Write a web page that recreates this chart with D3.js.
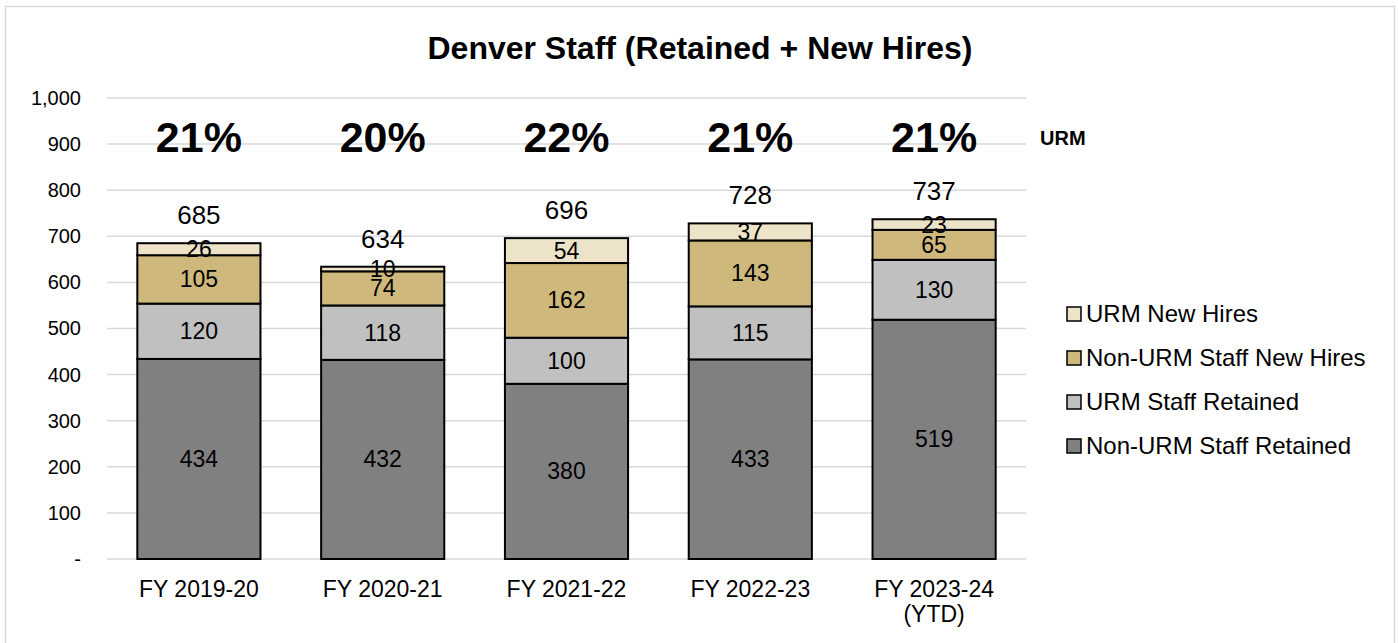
<!DOCTYPE html>
<html>
<head>
<meta charset="utf-8">
<script src="https://cdn.jsdelivr.net/npm/d3@7"></script>
<style>
  body { margin: 0; background: #fff; }
  svg text { font-family: "Liberation Sans", Arial, Helvetica, sans-serif; fill: #000; }
</style>
</head>
<body>
<div id="chart"></div>
<script>
// dados do gráfico
const categories = ["FY 2019-20", "FY 2020-21", "FY 2021-22", "FY 2022-23", "FY 2023-24\n(YTD)"];
const nonUrmRetained = [434, 432, 380, 433, 519];
const urmRetained = [120, 118, 100, 115, 130];
const nonUrmNewHires = [105, 74, 162, 143, 65];
const urmNewHires = [26, 10, 54, 37, 23];
const urmPercent = ["21%", "20%", "22%", "21%", "21%"];
const yTicks = [0, 100, 200, 300, 400, 500, 600, 700, 800, 900, 1000];

const seriesNames = ["Non-URM Staff Retained", "URM Staff Retained", "Non-URM Staff New Hires", "URM New Hires"];
const seriesColors = ["#808080", "#c0c0c0", "#cfb87c", "#ede3c8"];

const W = 1398, H = 643;
const plot = { left: 107, right: 1026, top: 98, bottom: 559 };

const svg = d3.select("#chart").append("svg")
    .attr("width", W)
    .attr("height", H);

// moldura
svg.append("path")
    .attr("d", `M5.5,${H} V6.5 H1394.5 V${H}`)
    .attr("fill", "none")
    .attr("stroke", "#d9d9d9")
    .attr("stroke-width", 1.5);

svg.append("text")
    .attr("x", 700).attr("y", 59)
    .attr("text-anchor", "middle")
    .style("font-size", "32px")
    .style("font-weight", "bold")
    .text("Denver Staff (Retained + New Hires)");

const x = d3.scaleBand()
    .domain(categories)
    .range([plot.left, plot.right])
    .paddingInner(0.33)
    .paddingOuter(0.165);

const y = d3.scaleLinear()
    .domain([0, 1000])
    .range([plot.bottom, plot.top]);

// grelha
svg.append("g")
    .selectAll("line")
    .data(yTicks)
    .enter()
    .append("line")
    .attr("x1", plot.left).attr("x2", plot.right)
    .attr("y1", d => y(d)).attr("y2", d => y(d))
    .attr("stroke", "#d9d9d9")
    .attr("stroke-width", 1.5);

// eixo Y
const yAxis = svg.append("g")
    .attr("transform", `translate(${plot.left},0)`)
    .call(d3.axisLeft(y).tickValues(yTicks).tickSize(0).tickPadding(26)
        .tickFormat(d => d === 0 ? "-" : d3.format(",")(d)));
yAxis.select(".domain").remove();
yAxis.selectAll("text").style("font-size", "20px");

// tabela para o stack
const table = categories.map((c, i) => ({
    cat: c,
    s0: nonUrmRetained[i],
    s1: urmRetained[i],
    s2: nonUrmNewHires[i],
    s3: urmNewHires[i]
}));
const keys = ["s0", "s1", "s2", "s3"];
const stacked = d3.stack().keys(keys)(table);

const layers = svg.append("g")
    .selectAll("g")
    .data(stacked)
    .enter()
    .append("g")
    .attr("fill", (d, i) => seriesColors[i]);

layers.selectAll("rect")
    .data(d => d)
    .enter()
    .append("rect")
    .attr("x", d => x(d.data.cat))
    .attr("y", d => y(d[1]))
    .attr("width", x.bandwidth())
    .attr("height", d => y(d[0]) - y(d[1]))
    .attr("stroke", "#000")
    .attr("stroke-width", 2);

layers.selectAll("text")
    .data(d => d)
    .enter()
    .append("text")
    .attr("x", d => x(d.data.cat) + x.bandwidth() / 2)
    .attr("y", d => (y(d[0]) + y(d[1])) / 2 + 8)
    .attr("text-anchor", "middle")
    .style("font-size", "23px")
    .text(d => d[1] - d[0]);

// totais
svg.append("g")
    .selectAll("text")
    .data(table)
    .enter()
    .append("text")
    .attr("x", d => x(d.cat) + x.bandwidth() / 2)
    .attr("y", d => y(d.s0 + d.s1 + d.s2 + d.s3) - 19)
    .attr("text-anchor", "middle")
    .style("font-size", "26px")
    .text(d => d.s0 + d.s1 + d.s2 + d.s3);

// percentagens URM
svg.append("g")
    .selectAll("text")
    .data(urmPercent)
    .enter()
    .append("text")
    .attr("x", (d, i) => x(categories[i]) + x.bandwidth() / 2)
    .attr("y", 152)
    .attr("text-anchor", "middle")
    .style("font-size", "43px")
    .style("font-weight", "bold")
    .text(d => d);

svg.append("text")
    .attr("x", 1040).attr("y", 145)
    .style("font-size", "20px")
    .style("font-weight", "bold")
    .text("URM");

// eixo X
svg.append("g")
    .selectAll("text")
    .data(categories)
    .enter()
    .append("text")
    .attr("x", d => x(d) + x.bandwidth() / 2)
    .attr("y", 597)
    .attr("text-anchor", "middle")
    .style("font-size", "23px")
    .each(function(d) {
        const lines = d.split("\n");
        d3.select(this).selectAll("tspan")
            .data(lines)
            .enter()
            .append("tspan")
            .attr("x", x(d) + x.bandwidth() / 2)
            .attr("dy", (l, j) => j === 0 ? 0 : 25)
            .text(l => l);
    });

// legenda
const legendOrder = [3, 2, 1, 0];
const legend = svg.append("g")
    .selectAll("g")
    .data(legendOrder)
    .enter()
    .append("g")
    .attr("transform", (d, i) => `translate(1067,${314 + i * 44})`);

legend.append("rect")
    .attr("x", 0).attr("y", -7)
    .attr("width", 14).attr("height", 14)
    .attr("fill", d => seriesColors[d])
    .attr("stroke", "#000")
    .attr("stroke-width", 1.5);

legend.append("text")
    .attr("x", 19).attr("y", 8)
    .style("font-size", "24px")
    .text(d => seriesNames[d]);
</script>
</body>
</html>
